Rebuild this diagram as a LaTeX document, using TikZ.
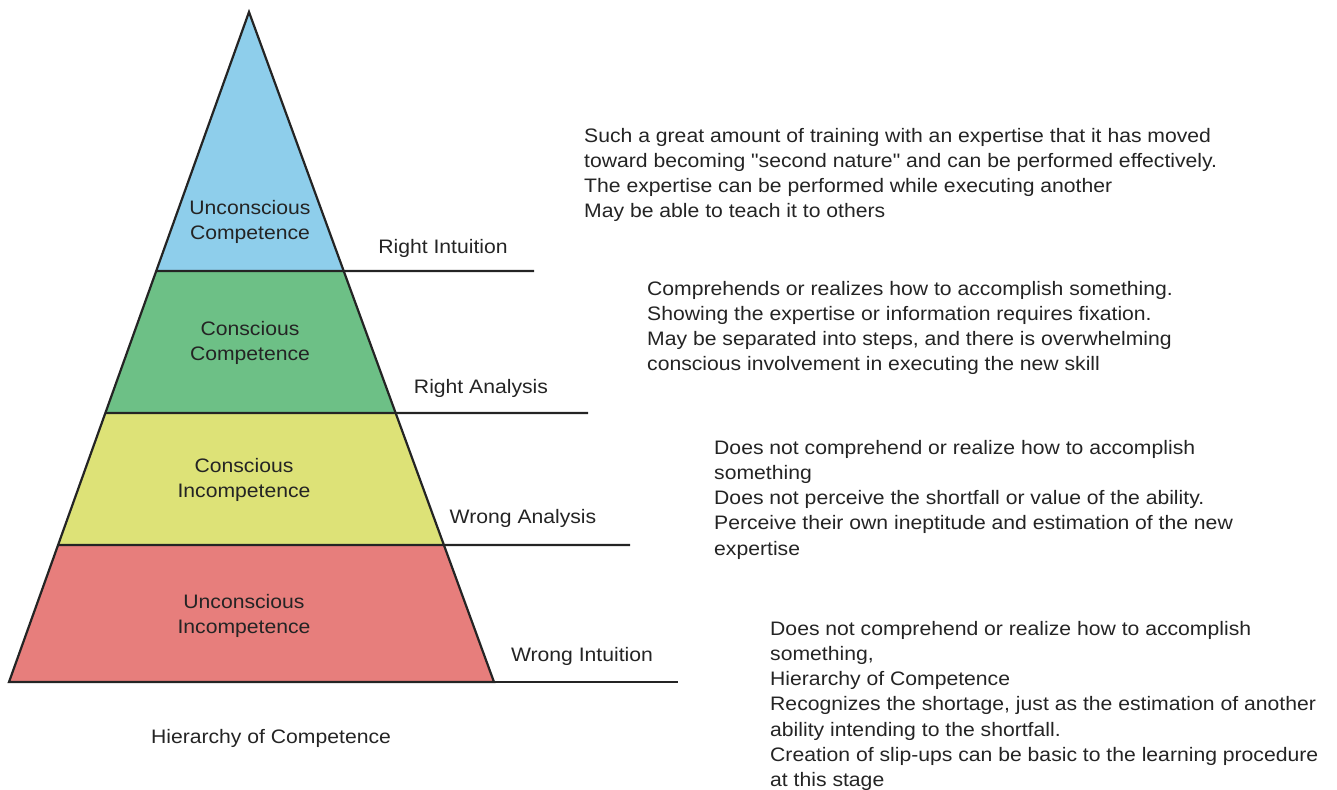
\documentclass[tikz,border=0pt]{standalone}
\usepackage{fontspec}
\setmainfont{Liberation Sans}[FakeStretch=1.085, Ligatures=TeXOff]
\usetikzlibrary{calc}
\usetikzlibrary{positioning}
\definecolor{cblue}{rgb}{0.557, 0.808, 0.922}
\definecolor{cgreen}{rgb}{0.427, 0.753, 0.525}
\definecolor{cyellow}{rgb}{0.867, 0.886, 0.467}
\definecolor{cred}{rgb}{0.906, 0.494, 0.486}
\definecolor{cline}{rgb}{0.14, 0.14, 0.14}
\tikzset{txt/.style = {inner sep=0pt, font=\fontsize{19.5}{25.2}\selectfont, text=cline}}
\tikzset{note/.style = {txt, align=left, anchor=north west}}
\tikzset{level/.style = {txt, align=center}}
\tikzset{rule/.style = {draw=cline, line width=2.2pt}}

\begin{document}
\begin{tikzpicture}[x=1pt, y=-1pt]
      \useasboundingbox (0, 0) rectangle (1337, 789);

      \coordinate (apex) at (249, 12);
      \coordinate (bl) at (9, 682);
      \coordinate (br) at (494, 682);

      \coordinate (l1) at ($(apex)!0.3866!(bl)$);
      \coordinate (r1) at ($(apex)!0.3866!(br)$);
      \coordinate (l2) at ($(apex)!0.5985!(bl)$);
      \coordinate (r2) at ($(apex)!0.5985!(br)$);
      \coordinate (l3) at ($(apex)!0.7955!(bl)$);
      \coordinate (r3) at ($(apex)!0.7955!(br)$);

      \fill [cblue] (apex) -- (r1) -- (l1) -- cycle;
      \fill [cgreen] (l1) -- (r1) -- (r2) -- (l2) -- cycle;
      \fill [cyellow] (l2) -- (r2) -- (r3) -- (l3) -- cycle;
      \fill [cred] (l3) -- (r3) -- (br) -- (bl) -- cycle;

      \coordinate (e1) at (534, 271);
      \coordinate (e2) at (588, 413);
      \coordinate (e3) at (630, 545);
      \coordinate (e4) at (678, 682);

      \draw [rule, line join=miter] (apex) -- (br) -- (bl) -- cycle;
      \draw [rule] (l1) -- (r1) -- (e1);
      \draw [rule] (l2) -- (r2) -- (e2);
      \draw [rule] (l3) -- (r3) -- (e3);
      \draw [rule] (br) -- (e4);

      \node [level] (uc) at (250, 222) {Unconscious\\Competence};
      \node [level] (cc) at (250, 343) {Conscious\\Competence};
      \node [level] (ci) at (244, 480) {Conscious\\Incompetence};
      \node [level] (ui) at (244, 616) {Unconscious\\Incompetence};

      \node [txt] (ri) at (443, 248) {Right Intuition};
      \node [txt] (ra) at (481, 388) {Right Analysis};
      \node [txt] (wa) at (523, 518) {Wrong Analysis};
      \node [txt] (wi) at (582, 656) {Wrong Intuition};

      \node [note] (n1) at (584, 128) {Such a great amount of training with an expertise that it has moved\\
        toward becoming "second nature" and can be performed effectively.\\
        The expertise can be performed while executing another\\
        May be able to teach it to others};
      \node [note] (n2) at (647, 281) {Comprehends or realizes how to accomplish something.\\
        Showing the expertise or information requires fixation.\\
        May be separated into steps, and there is overwhelming\\
        conscious involvement in executing the new skill};
      \node [note] (n3) at (714, 440) {Does not comprehend or realize how to accomplish\\
        something\\
        Does not perceive the shortfall or value of the ability.\\
        Perceive their own ineptitude and estimation of the new\\
        expertise};
      \node [note] (n4) at (770, 621) {Does not comprehend or realize how to accomplish\\
        something,\\
        Hierarchy of Competence\\
        Recognizes the shortage, just as the estimation of another\\
        ability intending to the shortfall.\\
        Creation of slip-ups can be basic to the learning procedure\\
        at this stage};

      \node [txt] (title) at (271, 738) {Hierarchy of Competence};
    \end{tikzpicture}
\end{document}
